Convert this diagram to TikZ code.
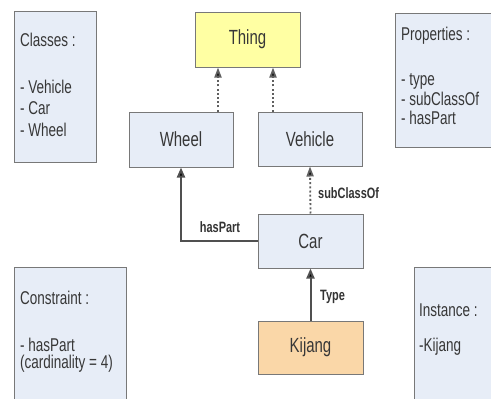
\documentclass[tikz,border=0pt]{standalone}
\usepackage{fontspec}
\setmainfont{Liberation Sans}[FakeStretch=0.73]
\usetikzlibrary{arrows.meta}
\definecolor{boxfill}{RGB}{231,237,247}
\definecolor{thingfill}{RGB}{255,255,163}
\definecolor{kijangfill}{RGB}{250,215,168}
\definecolor{edgegray}{RGB}{120,120,120}
\definecolor{txtgray}{RGB}{55,55,55}
\definecolor{linegray}{RGB}{80,80,80}
\definecolor{dotgray}{RGB}{95,95,95}
\tikzset{
  cls/.style={draw=edgegray, line width=1pt, fill=boxfill, minimum width=104pt, minimum height=54pt, inner sep=0pt, font=\fontsize{20.5}{22}\selectfont, text=txtgray},
  sidebox/.style={draw=edgegray, line width=1.2pt, fill=boxfill},
  sidetxt/.style={anchor=west, inner sep=0pt, font=\fontsize{18.5}{20}\selectfont, text=txtgray},
  edgelab/.style={inner sep=0pt, font=\fontsize{15}{17}\selectfont\bfseries, text=black!80},
  dotline/.style={draw=dotgray, line width=1.8pt, dash pattern=on 2pt off 2.2pt, -{Triangle[length=10pt,width=7pt,fill=black]}},
  solidline/.style={draw=linegray, line width=2pt, -{Triangle[length=10pt,width=8pt,fill=black]}},
}
\begin{document}
\begin{tikzpicture}[x=1pt,y=-1pt]
\clip (0,0) rectangle (491,399);
\fill[white] (0,0) rectangle (491,399);

% side boxes
\node[sidebox, minimum width=82pt, minimum height=151pt, anchor=north west] (classes) at (14,11) {};
\node[sidetxt] (c1) at (20,40) {Classes :};
\node[sidetxt] (c2) at (20,87) {- Vehicle};
\node[sidetxt] (c3) at (20,108) {- Car};
\node[sidetxt] (c4) at (20,129.5) {- Wheel};

\node[sidebox, minimum width=110pt, minimum height=134pt, anchor=north west] (props) at (395,13) {};
\node[sidetxt] (p1) at (401,36) {Properties :};
\node[sidetxt] (p2) at (401,81) {- type};
\node[sidetxt] (p3) at (401,99) {- subClassOf};
\node[sidetxt] (p4) at (401,118) {- hasPart};

\node[sidebox, minimum width=112pt, minimum height=145pt, anchor=north west] (constr) at (14,267) {};
\node[sidetxt] (k1) at (20,298) {Constraint :};
\node[sidetxt] (k2) at (20,345) {- hasPart};
\node[sidetxt] (k3) at (20,364) {(cardinality = 4)};

\node[sidebox, minimum width=90pt, minimum height=145pt, anchor=north west] (inst) at (414,267) {};
\node[sidetxt] (i1) at (419,310) {Instance :};
\node[sidetxt] (i2) at (419,347) {-Kijang};

% class nodes
\node[cls, fill=thingfill, minimum width=105pt, minimum height=55pt] (thing) at (247.5,39.5) {Thing};
\node[cls, minimum height=55pt] (wheel) at (181,139.5) {Wheel};
\node[cls] (vehicle) at (310,139) {Vehicle};
\node[cls, minimum width=105pt] (car) at (310.5,241) {Car};
\node[cls, fill=kijangfill, minimum width=105pt, minimum height=53pt] (kijang) at (310.5,347.5) {Kijang};

% connectors
\draw[dotline] ([xshift=37pt]wheel.north) -- ([xshift=37pt]wheel.north |- thing.south);
\draw[dotline] ([xshift=-37pt]vehicle.north) -- ([xshift=-37pt]vehicle.north |- thing.south);
\draw[dotline] (car.north) -- (vehicle.south);
\draw[solidline] (car.west) -| (wheel.south);
\draw[solidline] (kijang.north) -- (car.south);

% labels
\node[edgelab] (lhas) at (220,227) {hasPart};
\node[edgelab, anchor=west] (lsub) at (318,193) {subClassOf};
\node[edgelab, anchor=west] (ltype) at (320,297) {Type};
\end{tikzpicture}
\end{document}
